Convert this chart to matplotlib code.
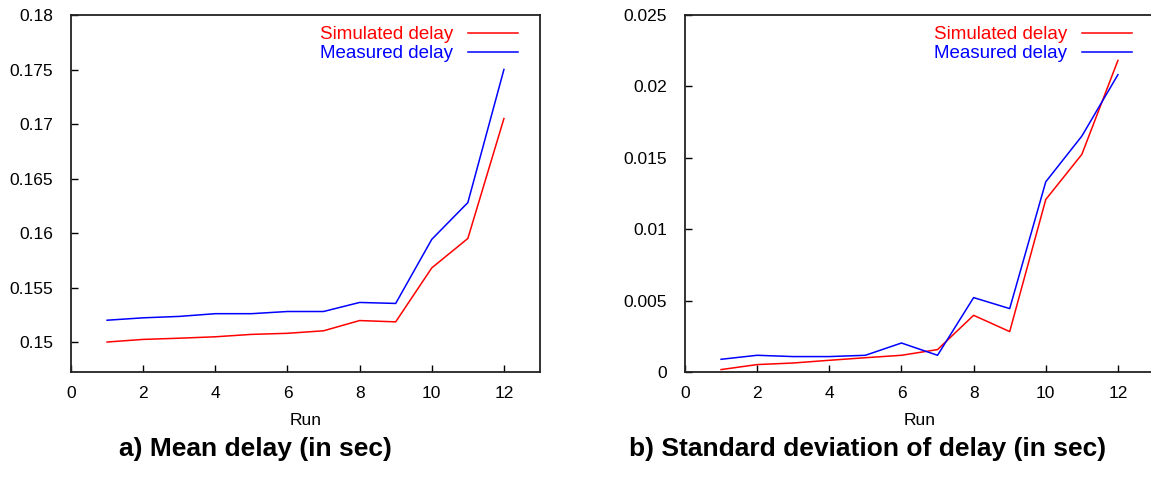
import matplotlib
matplotlib.use("Agg")
import matplotlib.pyplot as plt

plt.rcParams['font.family'] = ['Liberation Sans', 'DejaVu Sans']

runs = [1, 2, 3, 4, 5, 6, 7, 8, 9, 10, 11, 12]

mean_simulated = [0.1500, 0.15024, 0.15035, 0.15048, 0.1507, 0.1508, 0.15103,
                  0.15197, 0.15185, 0.1568, 0.1595, 0.1705]
mean_measured = [0.1520, 0.15222, 0.15235, 0.1526, 0.1526, 0.1528, 0.1528,
                 0.15363, 0.15354, 0.15942, 0.16279, 0.1750]

std_simulated = [0.00017, 0.00052, 0.00063, 0.00082, 0.0010, 0.00117, 0.00157,
                 0.00397, 0.00283, 0.01208, 0.01524, 0.02182]
std_measured = [0.00089, 0.00117, 0.00108, 0.00108, 0.00117, 0.00203, 0.00117,
                0.00521, 0.00444, 0.01332, 0.01652, 0.02082]

xticks = [0, 2, 4, 6, 8, 10, 12]
mean_yticks = [0.15, 0.155, 0.16, 0.165, 0.17, 0.175, 0.18]
mean_yticklabels = ['0.15', '0.155', '0.16', '0.165', '0.17', '0.175', '0.18']
std_yticks = [0, 0.005, 0.01, 0.015, 0.02, 0.025]
std_yticklabels = ['0', '0.005', '0.01', '0.015', '0.02', '0.025']

labels = ['Simulated delay', 'Measured delay']
colors = ['#ff0000', '#0000ff']
titles = ['a) Mean delay (in sec)', 'b) Standard deviation of delay (in sec)']

W, H = 1151, 492
fig = plt.figure(figsize=(W / 100, H / 100), dpi=100)

def make_ax(left, right, top, bottom):
    return fig.add_axes([left / W, 1 - bottom / H, (right - left) / W, (bottom - top) / H])

ax1 = make_ax(71, 540, 15, 372)
ax2 = make_ax(685, 1154, 15, 372)

panels = [
    (ax1, mean_simulated, mean_measured, (0.14725, 0.18), mean_yticks, mean_yticklabels),
    (ax2, std_simulated, std_measured, (0.0, 0.025), std_yticks, std_yticklabels),
]

for ax, sim, mea, ylim, yt, ytl in panels:
    ax.plot(runs, sim, color=colors[0], lw=1.1, label=labels[0])
    ax.plot(runs, mea, color=colors[1], lw=1.1, label=labels[1])
    ax.set_xlim(0, 13)
    ax.set_ylim(*ylim)
    ax.set_xticks(xticks)
    ax.set_xticklabels([str(t) for t in xticks])
    ax.set_yticks(yt)
    ax.set_yticklabels(ytl)
    ax.tick_params(direction='in', length=5, width=1, labelsize=12.5,
                   top=False, right=False, colors='black')
    ax.tick_params(axis='x', pad=10)
    ax.tick_params(axis='y', pad=13)
    for s in ax.spines.values():
        s.set_linewidth(1.3)
        s.set_color('#222222')
    ax.set_xlabel('Run', fontsize=12.5, labelpad=9)
    leg = ax.legend(loc='upper right', frameon=False, markerfirst=False,
                    fontsize=13.5, handlelength=2.7, handletextpad=0.8,
                    labelspacing=0.1, borderaxespad=0.2,
                    bbox_to_anchor=(0.978, 1.0))
    for txt, c in zip(leg.get_texts(), colors):
        txt.set_color(c)

fig.text(255 / W, 1 - 449 / H, titles[0], ha='center', va='center',
         fontsize=19, fontweight='bold')
fig.text(868 / W, 1 - 449 / H, titles[1], ha='center', va='center',
         fontsize=19, fontweight='bold')

fig.savefig('out.png', dpi=100)
